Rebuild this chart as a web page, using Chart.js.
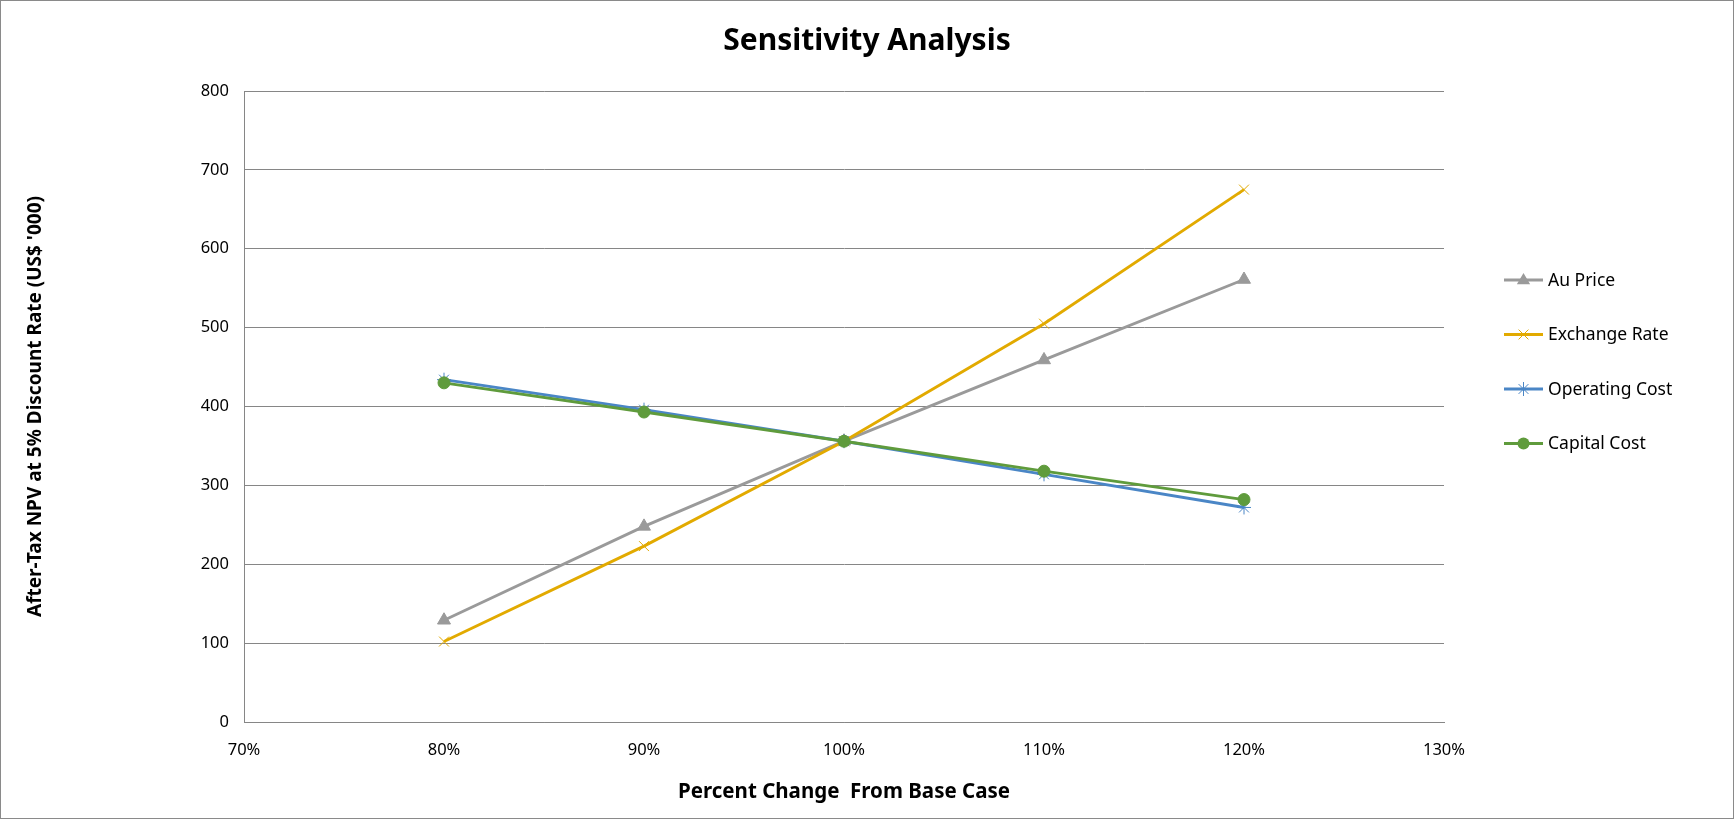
<!DOCTYPE html>
<html>
<head>
<meta charset="utf-8">
<script src="https://cdn.jsdelivr.net/npm/chart.js@4.4.1/dist/chart.umd.min.js"></script>
<style>
  html, body { margin: 0; padding: 0; background: #fff; }
  #wrap { width: 1734px; height: 819px; }
</style>
</head>
<body>
<div id="wrap"><canvas id="c" width="1734" height="819"></canvas></div>
<script>
const categories = [0.8, 0.9, 1.0, 1.1, 1.2];
const auPrice = [129, 248, 356, 459, 561];
const exchangeRate = [102, 223, 356, 505, 675];
const operatingCost = [434, 396, 356, 314, 272];
const capitalCost = [430, 393, 356, 318, 282];
const yTicks = [0, 100, 200, 300, 400, 500, 600, 700, 800];
const xTicks = [0.7, 0.8, 0.9, 1.0, 1.1, 1.2, 1.3];

const seriesNames = ['Au Price', 'Exchange Rate', 'Operating Cost', 'Capital Cost'];
const seriesColors = ['#9a9a9a', '#e2aa00', '#4a86c6', '#5f9b3c'];
const seriesPoints = ['triangle', 'crossRot', 'star', 'circle'];
const seriesValues = [auPrice, exchangeRate, operatingCost, capitalCost];

const FONT = "'Noto Sans', 'Open Sans', sans-serif";

function toXY(vals) { return categories.map((c, i) => ({ x: c, y: vals[i] })); }

const datasets = seriesNames.map((n, i) => ({
  label: n,
  data: toXY(seriesValues[i]),
  borderColor: seriesColors[i],
  backgroundColor: seriesColors[i],
  borderWidth: 2.9,
  pointStyle: seriesPoints[i],
  pointRadius: seriesPoints[i] === 'circle' ? 6 : (seriesPoints[i] === 'triangle' ? 7.5 : 7),
  pointBorderWidth: 1,
  pointBorderColor: seriesColors[i],
  pointBackgroundColor: seriesColors[i],
  tension: 0,
  fill: false
})).reverse();

function drawMarker(ctx, style, x, y, r, color) {
  ctx.save();
  ctx.fillStyle = color; ctx.strokeStyle = color; ctx.lineWidth = 1;
  ctx.beginPath();
  if (style === 'circle') {
    ctx.arc(x, y, r, 0, Math.PI * 2); ctx.fill();
  } else if (style === 'triangle') {
    ctx.moveTo(x, y - r); ctx.lineTo(x + r * 0.95, y + r * 0.6); ctx.lineTo(x - r * 0.95, y + r * 0.6); ctx.closePath(); ctx.fill();
  } else if (style === 'crossRot') {
    ctx.moveTo(x - r * 0.7, y - r * 0.7); ctx.lineTo(x + r * 0.7, y + r * 0.7);
    ctx.moveTo(x + r * 0.7, y - r * 0.7); ctx.lineTo(x - r * 0.7, y + r * 0.7); ctx.stroke();
  } else if (style === 'star') {
    ctx.moveTo(x - r * 0.7, y - r * 0.7); ctx.lineTo(x + r * 0.7, y + r * 0.7);
    ctx.moveTo(x + r * 0.7, y - r * 0.7); ctx.lineTo(x - r * 0.7, y + r * 0.7);
    ctx.moveTo(x, y - r); ctx.lineTo(x, y + r); ctx.stroke();
  }
  ctx.restore();
}

const frame = {
  id: 'frame',
  beforeDraw(chart) {
    const ctx = chart.ctx;
    ctx.save();
    ctx.fillStyle = '#ffffff';
    ctx.fillRect(0, 0, chart.width, chart.height);
    ctx.strokeStyle = '#8a8a8a';
    ctx.lineWidth = 1;
    ctx.strokeRect(0.5, 0.5, chart.width - 1, chart.height - 1);
    ctx.restore();
  },
  afterDraw(chart) {
    const ctx = chart.ctx;
    ctx.save();
    ctx.font = "17.5px " + FONT;
    ctx.textBaseline = 'middle';
    seriesNames.forEach((name, i) => {
      const y = 280 + i * 54.5;
      const color = seriesColors[i];
      ctx.strokeStyle = color; ctx.lineWidth = 2.9;
      ctx.beginPath(); ctx.moveTo(1504, y); ctx.lineTo(1543, y); ctx.stroke();
      drawMarker(ctx, seriesPoints[i], 1523.5, y, seriesPoints[i] === 'circle' ? 6 : 7, color);
      ctx.fillStyle = '#000';
      ctx.fillText(name, 1548, y + 1);
    });
    ctx.restore();
  }
};

new Chart(document.getElementById('c'), {
  type: 'line',
  data: { datasets },
  plugins: [frame],
  options: {
    responsive: false,
    animation: false,
    devicePixelRatio: 1,
    layout: { padding: { left: 0, right: 0, top: 0, bottom: 0 } },
    plugins: {
      legend: { display: false },
      tooltip: { enabled: false },
      title: {
        display: true,
        text: 'Sensitivity Analysis',
        color: '#000',
        font: { family: FONT, size: 30, weight: 'bold' },
        padding: { top: 23, bottom: 32 },
        fullSize: true
      }
    },
    scales: {
      x: {
        type: 'linear',
        min: 0.7, max: 1.3,
        afterBuildTicks(scale) { scale.ticks = xTicks.map(v => ({ value: v })); },
        afterFit(scale) { scale.height = 97; },
        grid: { display: true, drawOnChartArea: false, drawTicks: false, color: '#868686' },
        border: { display: true, color: '#868686', width: 1 },
        ticks: {
          padding: 18,
          color: '#000',
          font: { family: FONT, size: 16.5 },
          callback: (v) => Math.round(v * 100) + '%'
        },
        title: {
          display: true,
          text: 'Percent Change  From Base Case',
          color: '#000',
          font: { family: FONT, size: 20.5, weight: 'bold' },
          padding: { top: 0, bottom: 15 }
        }
      },
      y: {
        type: 'linear',
        min: 0, max: 800,
        afterBuildTicks(scale) { scale.ticks = yTicks.map(v => ({ value: v })); },
        afterFit(scale) { scale.width = 244; },
        grid: { color: '#868686', lineWidth: 1, drawTicks: false },
        border: { display: true, color: '#868686', width: 1 },
        ticks: {
          padding: 15,
          color: '#000',
          font: { family: FONT, size: 16.5 }
        },
        title: {
          display: true,
          text: "After-Tax NPV at 5% Discount Rate (US$ '000)",
          color: '#000',
          font: { family: FONT, size: 19, weight: 'bold' },
          padding: { top: 24, bottom: 0 }
        }
      },
      yRight: {
        type: 'linear',
        position: 'right',
        min: 0, max: 800,
        afterFit(scale) { scale.width = 290; },
        grid: { display: false, drawOnChartArea: false, drawTicks: false },
        border: { display: false },
        ticks: { display: false },
        title: { display: false }
      }
    }
  }
});
</script>
</body>
</html>
